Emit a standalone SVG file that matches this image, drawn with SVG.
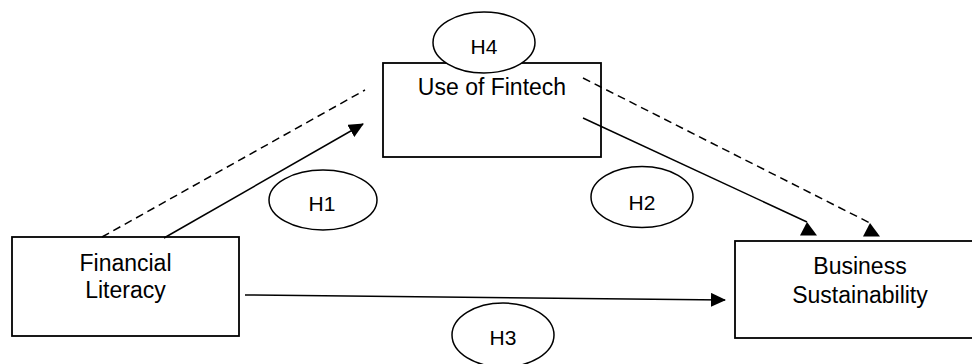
<svg xmlns="http://www.w3.org/2000/svg" width="972" height="364" viewBox="0 0 972 364">
<style>
.box{fill:none;stroke:#000;stroke-width:1.8}
.oval{fill:#fff;stroke:#000;stroke-width:1.5}
.t{font-family:"Liberation Sans",Arial,sans-serif;font-size:23px;fill:#000;text-anchor:middle}
.h{font-family:"Liberation Sans",Arial,sans-serif;font-size:21px;fill:#000;text-anchor:middle}
.ln{fill:none;stroke:#000;stroke-width:1.5}
.dash{stroke-dasharray:8 5}
</style>
<defs>
<marker id="arr" markerUnits="userSpaceOnUse" viewBox="0 0 15 14" refX="14" refY="7" markerWidth="15" markerHeight="14" orient="auto">
<path d="M0,0 L15,7 L0,14 Z" fill="#000"/>
</marker>
<marker id="tri" markerUnits="userSpaceOnUse" viewBox="-8 -1 20 16" refX="0" refY="0" markerWidth="20" markerHeight="16" orient="0">
<path d="M0,0 L10,13.5 L-7,13.5 Z" fill="#000"/>
</marker>
</defs>
<g id="fintech">
<rect class="box" x="383" y="63" width="218" height="94"/>
<text class="t" x="492" y="95">Use of Fintech</text>
</g>
<g id="literacy">
<rect class="box" x="12" y="237" width="227" height="99"/>
<text class="t" x="125.5" y="271">Financial</text>
<text class="t" x="125.5" y="298">Literacy</text>
</g>
<g id="sustainability">
<rect class="box" x="735" y="241" width="250" height="97"/>
<text class="t" x="860" y="274">Business</text>
<text class="t" x="860" y="303">Sustainability</text>
</g>
<g id="connectors">
<line class="ln" x1="164" y1="238" x2="363" y2="124" marker-end="url(#arr)"/>
<line class="ln dash" x1="102" y1="237" x2="365" y2="90"/>
<line class="ln" x1="583" y1="118" x2="807" y2="222" marker-end="url(#tri)"/>
<line class="ln dash" x1="583" y1="78" x2="870" y2="223" marker-end="url(#tri)"/>
<line class="ln" x1="245" y1="295" x2="725" y2="300" stroke-width="1.8" marker-end="url(#arr)"/>
</g>
<g id="h4">
<ellipse class="oval" cx="484" cy="42.5" rx="51" ry="30.5"/>
<text class="h" x="484" y="54">H4</text>
</g>
<g id="h1">
<ellipse class="oval" cx="323" cy="200" rx="54" ry="30"/>
<text class="h" x="322" y="211">H1</text>
</g>
<g id="h2">
<ellipse class="oval" cx="642" cy="197" rx="51" ry="30.5"/>
<text class="h" x="642" y="210">H2</text>
</g>
<g id="h3">
<ellipse class="oval" cx="503" cy="335" rx="51" ry="32"/>
<text class="h" x="503" y="345">H3</text>
</g>
</svg>
